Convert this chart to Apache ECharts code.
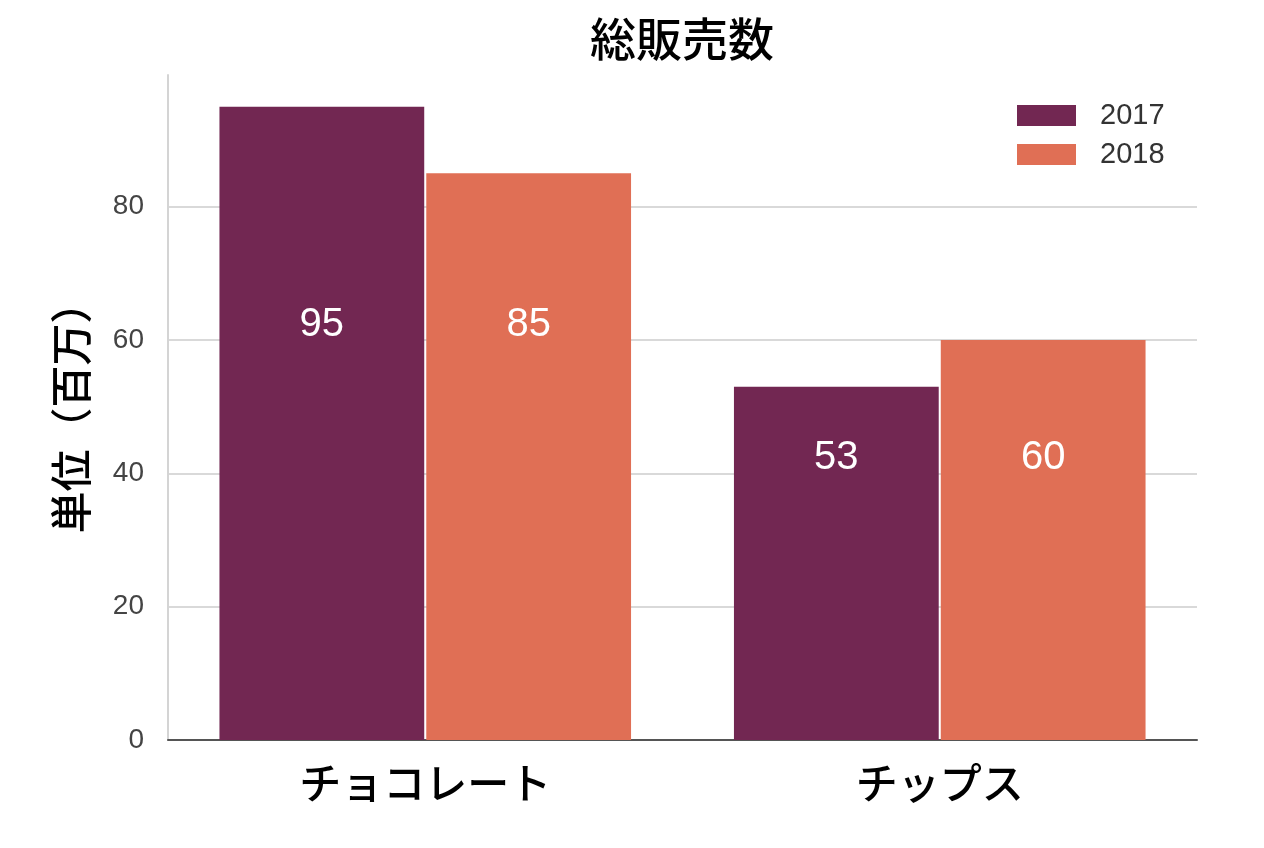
<!DOCTYPE html>
<html>
<head>
<meta charset="utf-8">
<script src="https://cdn.jsdelivr.net/npm/echarts@6/dist/echarts.min.js"></script>
<style>
  html, body { margin: 0; padding: 0; background: #fff; }
  #main { width: 1264px; height: 848px; }
</style>
</head>
<body>
<div id="main"></div>
<script>
var categories = ['チョコレート', 'チップス'];
var years = ['2017', '2018'];
var sales2017 = [95, 53];
var sales2018 = [85, 60];
var yTicks = [0, 20, 40, 60, 80];

var colors = ['#722752', '#e06f55'];
// 数値ラベルの高さ（カテゴリごと、データ単位）
var labelLevel = [62.3, 42.3];

var chart = echarts.init(document.getElementById('main'));

function barSeries(name, values, color, unit) {
    return {
        name: name,
        type: 'bar',
        barGap: '1%',
        barCategoryGap: '20%',
        itemStyle: { color: color },
        label: {
            show: true,
            color: '#fff',
            fontSize: 40,
            fontFamily: 'Liberation Sans',
            align: 'center',
            verticalAlign: 'middle'
        },
        data: values.map(function (v, i) {
            return { value: v, label: { position: ['50%', (v - labelLevel[i]) * unit] } };
        })
    };
}

function build(unit) {
    return {
        animation: false,
        title: {
            text: '総販売数',
            left: 585,
            top: 11,
            textStyle: { fontSize: 46, fontWeight: 500, color: '#000', fontFamily: 'Noto Sans CJK JP' }
        },
        legend: {
            data: years,
            orient: 'vertical',
            icon: 'rect',
            left: 1017,
            top: 101,
            padding: 0,
            itemWidth: 59,
            itemHeight: 21,
            itemGap: 10,
            textStyle: { fontSize: 29, color: '#333', fontFamily: 'Liberation Sans', padding: [0, 0, 0, 19] }
        },
        grid: { left: 168, right: 67, top: 75, bottom: 108 },
        xAxis: {
            type: 'category',
            data: categories,
            axisTick: { show: false },
            axisLine: { lineStyle: { color: '#555', width: 2 } },
            axisLabel: { fontSize: 42, fontWeight: 500, color: '#000', margin: 22, fontFamily: 'Noto Sans CJK JP' }
        },
        yAxis: {
            type: 'value',
            min: yTicks[0],
            max: 99.75,
            interval: yTicks[1] - yTicks[0],
            name: '単位（百万）',
            nameLocation: 'middle',
            nameGap: 76,
            nameTextStyle: { fontSize: 42, fontWeight: 500, color: '#000', fontFamily: 'Noto Sans CJK JP' },
            axisLine: { show: true, lineStyle: { color: '#d4d4d4', width: 2 } },
            axisTick: { show: false },
            axisLabel: { fontSize: 28, color: '#444', margin: 24, fontFamily: 'Liberation Sans', showMaxLabel: false },
            splitLine: { show: true, showMaxLine: false, lineStyle: { color: '#d9d9d9', width: 2 } }
        },
        series: [
            barSeries(years[0], sales2017, colors[0], unit),
            barSeries(years[1], sales2018, colors[1], unit)
        ]
    };
}

chart.setOption(build(0));
var unit = chart.convertToPixel({ yAxisIndex: 0 }, 0) - chart.convertToPixel({ yAxisIndex: 0 }, 1);
chart.setOption(build(unit));
</script>
</body>
</html>
